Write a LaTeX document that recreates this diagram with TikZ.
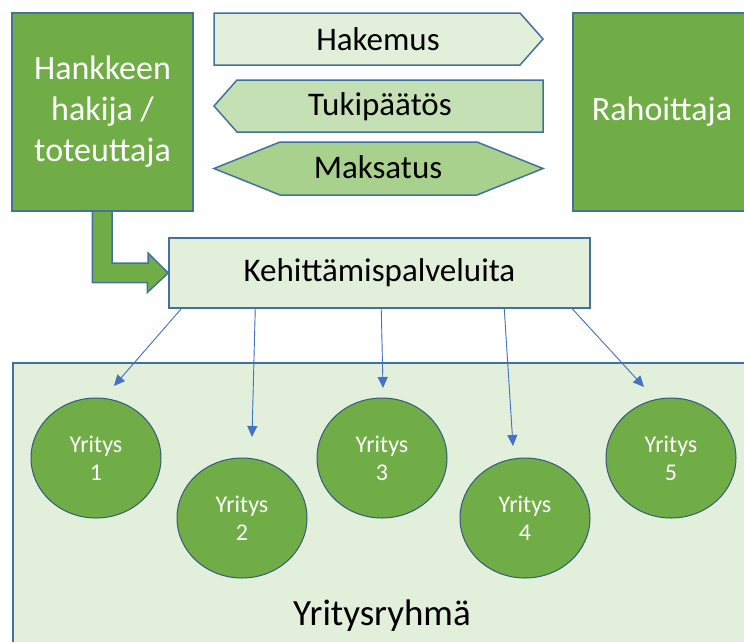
\documentclass[tikz,border=0pt]{standalone}
\usepackage{fontspec}
\setmainfont{Carlito}
\usetikzlibrary{arrows.meta, shapes.geometric, positioning}
\definecolor{tumma}{RGB}{112,173,71}
\definecolor{reuna}{RGB}{65,113,156}
\definecolor{vaalea}{RGB}{226,239,218}
\definecolor{keski}{RGB}{197,224,180}
\definecolor{vihrea}{RGB}{169,209,142}
\definecolor{sininen}{RGB}{68,114,196}

\begin{document}
\begin{tikzpicture}[x=1pt, y=1pt, >={Triangle[length=11pt,width=10pt]},
  laatikko/.style={draw=reuna, line width=1.5pt, fill=tumma, text=white, align=center, inner sep=0pt},
  kuvio/.style={draw=reuna, line width=1.5pt},
  teksti/.style={font=\fontsize{33}{40}\selectfont, inner sep=0pt},
  yritys/.style={ellipse, draw=reuna!80!black, line width=1pt, fill=tumma, text=white, align=center,
    minimum width=130pt, minimum height=120pt, inner sep=0pt, font=\fontsize{24}{28}\selectfont},
  nuoli/.style={->, draw=sininen, fill=sininen, line width=0.9pt}]
\useasboundingbox (0,0) rectangle (744,-641);

\draw[kuvio, fill=vaalea] (13,-363) rectangle (780,-700);
\node[teksti, font=\fontsize{37}{44}\selectfont] (ryhma) at (382,-616) {Yritysryhmä};

\node[kuvio, fill=vaalea, minimum width=421pt, minimum height=70pt, inner sep=0pt] (kehitys) at (379.5,-273) {};
\node[teksti] at (kehitys) {Kehittämispalveluita};

\coordinate (varsi) at (102.5,-211);
\draw[kuvio, fill=tumma] ([xshift=9.5]varsi) -- ++(0,-52) -- ++(36,0) -- ++(0,10) -- (kehitys.west)
  -- ++(-21,-19.5) -- ++(0,10) -- ++(-55,0) -- ++(0,71.5);

\node[laatikko, font=\fontsize{34}{41}\selectfont, minimum width=181pt, minimum height=198pt] (hakija) at (102.5,-112) {Hankkeen\\hakija /\\toteuttaja};
\node[laatikko, font=\fontsize{34}{41}\selectfont, minimum width=178pt, minimum height=198pt] (rahoittaja) at (662,-112) {Rahoittaja};

\draw[kuvio, fill=vaalea] (214,-13) -- (520,-13) -- (543,-39) -- (520,-65) -- (214,-65) -- cycle;
\node[teksti] (hakemus) at (378,-39) {Hakemus};
\draw[kuvio, fill=keski] (237,-80) -- (543,-80) -- (543,-132) -- (237,-132) -- (214,-106) -- cycle;
\node[teksti] (paatos) at (380,-107) {Tukipäätös};
\draw[kuvio, fill=vihrea] (214,-168.5) -- (280,-142) -- (477,-142) -- (543,-168.5) -- (477,-195) -- (280,-195) -- cycle;
\node[teksti] (maksatus) at (378,-167) {Maksatus};

\node[yritys] (y1) at (96,-458) {Yritys\\1};
\node[yritys] (y2) at (242,-518) {Yritys\\2};
\node[yritys] (y3) at (382,-458) {Yritys\\3};
\node[yritys] (y4) at (525,-518) {Yritys\\4};
\node[yritys] (y5) at (671,-458) {Yritys\\5};

\coordinate (k1) at (114,-386); \coordinate (k2) at (252,-437);
\coordinate (k3) at (383,-388); \coordinate (k4) at (513,-446);
\coordinate (k5) at (644,-387);
\draw[nuoli] ([xshift=13]kehitys.south west) -- (k1);
\draw[nuoli] ([xshift=87]kehitys.south west) -- (k2);
\draw[nuoli] ([xshift=213]kehitys.south west) -- (k3);
\draw[nuoli] ([xshift=336]kehitys.south west) -- (k4);
\draw[nuoli] ([xshift=404]kehitys.south west) -- (k5);

\end{tikzpicture}
\end{document}
